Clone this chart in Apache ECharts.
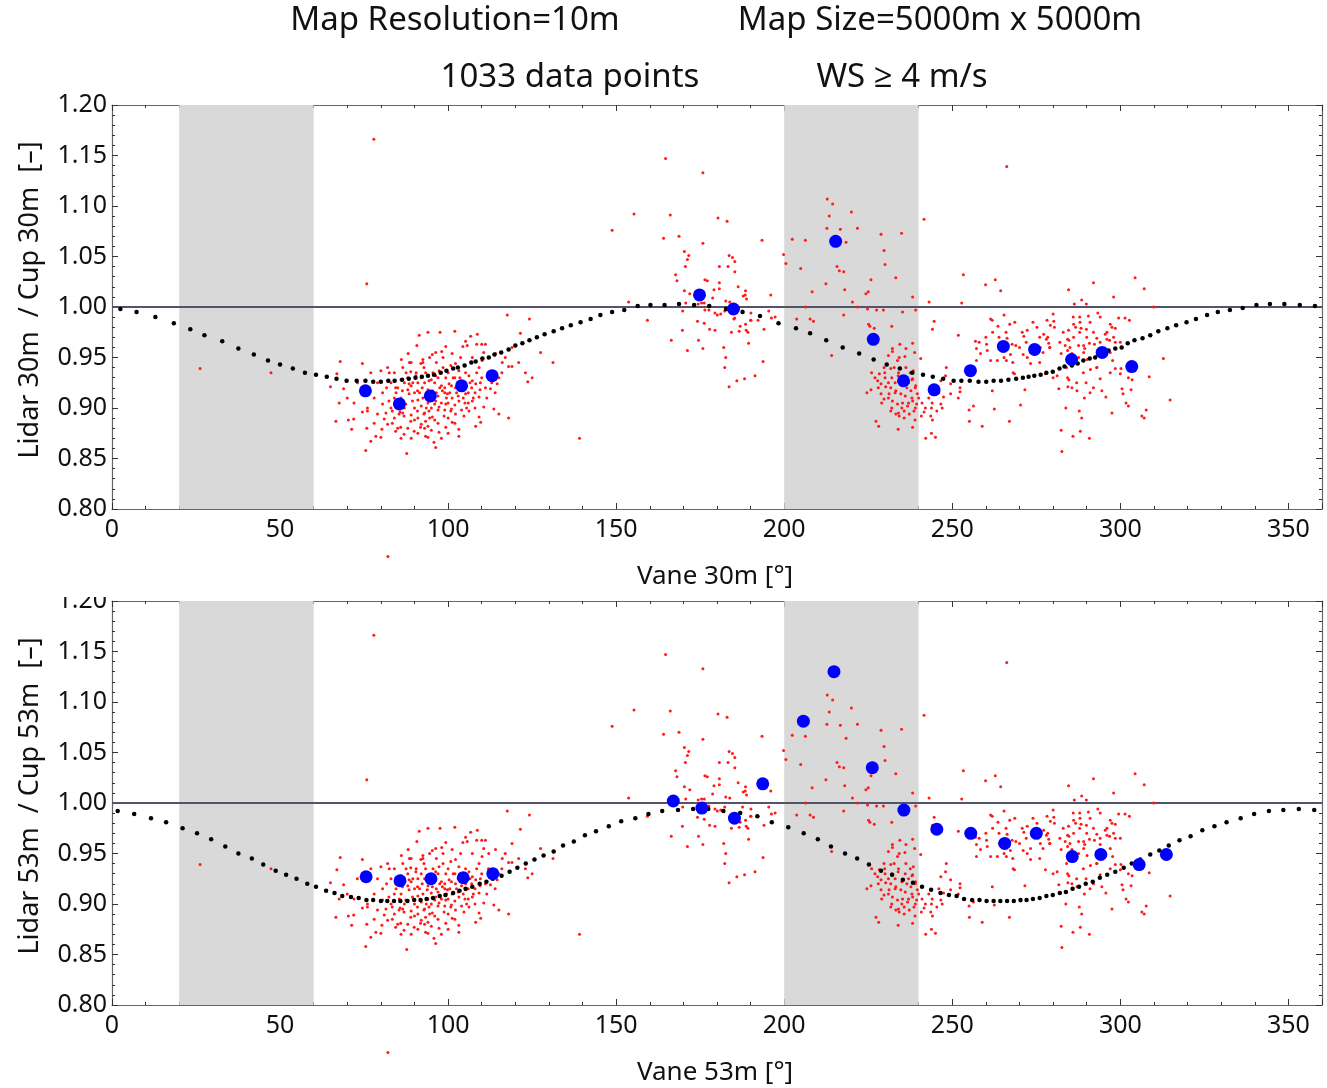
<!DOCTYPE html>
<html>
<head>
<meta charset="utf-8">
<title>Lidar / Cup ratio vs. vane direction</title>
<script src="https://cdn.jsdelivr.net/npm/echarts/dist/echarts.min.js"></script>
<style>
  html, body { margin: 0; padding: 0; background: #fff; }
  #chart { width: 1327px; height: 1088px; }
</style>
</head>
<body>
<div id="chart"></div>
<script>
// Individual 10-minute samples: [direction deg, lidar/cup ratio]
const samples = [
  [117.6,0.992],[124.2,0.988],[121.5,0.974],[127.5,0.955],[131.2,0.945],[123.7,0.926],[118.0,0.890],[139.1,0.870],
  [67.9,0.946],[74.5,0.944],[66.9,0.934],[65.0,0.921],[68.9,0.919],[67.6,0.905],[66.6,0.887],[70.3,0.888],
  [71.9,0.889],[71.3,0.879],[75.5,0.858],[77.0,0.867],[78.5,0.872],[80.0,0.871],[80.3,0.879],[75.8,0.880],
  [74.5,0.896],[76.0,0.897],[79.0,0.894],[81.0,0.889],[82.0,0.884],[83.4,0.885],[84.4,0.877],[85.9,0.881],
  [86.9,0.874],[87.7,0.855],[91.4,0.972],[94.0,0.975],[97.6,0.975],[102.0,0.976],[106.7,0.971],[108.7,0.973],
  [90.7,0.962],[88.1,0.954],[86.1,0.948],[92.5,0.948],[95.3,0.953],[96.3,0.955],[98.1,0.956],[99.3,0.961],
  [101.2,0.954],[104.4,0.961],[105.2,0.966],[105.7,0.962],[108.5,0.963],[110.0,0.963],[111.1,0.963],[110.6,0.955],
  [112.1,0.950],[114.1,0.954],[116.1,0.945],[119.0,0.941],[118.0,0.941],[80.0,0.937],[82.0,0.940],[82.5,0.935],
  [81.7,0.920],[84.4,0.920],[86.4,0.917],[88.4,0.924],[88.9,0.936],[90.4,0.932],[91.9,0.944],[92.8,0.940],
  [93.3,0.935],[94.3,0.927],[96.3,0.932],[97.3,0.937],[99.3,0.930],[100.8,0.942],[102.2,0.944],[103.2,0.937],
  [105.2,0.935],[106.2,0.932],[107.2,0.927],[108.2,0.924],[109.6,0.925],[111.1,0.920],[112.6,0.919],[114.6,0.924],
  [115.1,0.930],[109.2,0.940],[110.1,0.947],[107.2,0.950],[103.7,0.950],[100.3,0.924],[98.3,0.917],[96.3,0.907],
  [97.3,0.901],[99.3,0.904],[101.2,0.910],[103.2,0.907],[105.2,0.914],[107.2,0.907],[109.2,0.911],[110.6,0.901],
  [109.2,0.891],[108.2,0.882],[109.7,0.886],[106.2,0.897],[104.7,0.892],[102.2,0.894],[101.2,0.886],[99.3,0.881],
  [97.3,0.876],[95.8,0.866],[96.3,0.861],[93.3,0.872],[91.8,0.881],[89.9,0.877],[88.9,0.887],[86.9,0.892],
  [85.4,0.894],[83.4,0.897],[82.4,0.907],[80.5,0.904],[90.9,0.897],[92.8,0.894],[94.3,0.897],[95.3,0.891],
  [93.3,0.887],[89.4,0.907],[90.9,0.917],[92.3,0.920],[93.8,0.914],[95.3,0.917],[88.4,0.914],[87.4,0.904],
  [98.8,0.892],[100.8,0.897],[103.2,0.879],[105.2,0.920],[102.2,0.920],[99.8,0.914],[113.6,0.899],[115.1,0.894],
  [103.2,0.872],[94.0,0.871],[85.7,0.896],
  [88,0.930],[89,0.922],[90,0.915],[91,0.908],[92,0.902],[93,0.925],[94,0.918],[95,0.911],
  [96,0.904],[97,0.898],[98,0.922],[99,0.915],[100,0.905],[101,0.899],[102,0.930],[103,0.925],
  [104,0.918],[105,0.905],[106,0.915],[107,0.920],[87,0.925],[86,0.910],[85,0.920],[84,0.910],
  [83,0.925],[92,0.930],[96,0.925],[100,0.935],[94,0.905],[98,0.905],[90,0.900],[91,0.890],
  [93,0.895],[95,0.900],[97,0.912],[99,0.920],[101,0.922],[103,0.912],[105,0.925],[104,0.898],
  [102,0.903],[89,0.893],[87,0.900],[86,0.928],[88,0.918],[91,0.925],[95,0.928],[97,0.930],
  [99,0.898],[100,0.890],[102,0.885],[96,0.888],[94,0.882],[92,0.884],[90,0.888],[106,0.905],
  [108,0.915],[110,0.930],[112,0.935],[108,0.900],
  [84.5,0.915],[85.5,0.905],[86.5,0.895],[87.5,0.935],[88.5,0.945],[89.5,0.925],[90.5,0.935],[91.5,0.915],
  [92.5,0.910],[93.5,0.900],[94.5,0.890],[95.5,0.935],[96.5,0.915],[97.5,0.920],[98.5,0.940],[99.5,0.910],
  [100.5,0.915],[101.5,0.930],[102.5,0.915],[103.5,0.930],[104.5,0.910],[105.5,0.900],[106.5,0.925],[107.5,0.910],
  [108.5,0.935],[109.5,0.918],[111.5,0.910],[113,0.925],[114,0.915],[116,0.935],[117,0.950],[119,0.960],
  [121,0.945],[123,0.935],[125,0.930],[78,0.910],[79,0.925],[80.5,0.915],[81.5,0.895],[83,0.900],
  [84,0.890],[85,0.880],[86,0.870],[88,0.880],[89,0.870],[91,0.875],[93,0.880],[95,0.878],
  [97,0.885],[98,0.870],[100,0.875],[92.5,0.945],[94.5,0.950],[96.5,0.945],[98.5,0.950],[89,0.945],
  [86.5,0.940],[84,0.935],[77,0.935],[73,0.925],[72,0.905],[70,0.910],[76,0.900],[78,0.885],
  [164.7,1.147],[175.8,1.133],[155.3,1.092],[166.1,1.091],[148.8,1.076],[164.1,1.068],[168.7,1.070],[180.3,1.088],
  [183.0,1.085],[175.8,1.063],[170.3,1.055],[171.6,1.051],[171.2,1.047],[170.6,1.040],[167.7,1.032],[168.1,1.026],
  [183.6,1.051],[184.6,1.049],[185.3,1.045],[180.7,1.040],[183.3,1.040],[185.3,1.035],[193.4,1.066],[176.4,1.027],
  [177.1,1.026],[180.7,1.024],[180.7,1.018],[179.1,1.017],[186.3,1.020],[188.5,1.016],[187.8,1.011],[188.4,1.012],
  [188.8,1.008],[170.3,1.016],[171.9,1.013],[170.7,1.004],[174.4,1.003],[175.4,1.004],[176.2,1.004],[153.7,1.005],
  [178.7,1.009],[182.6,1.006],[183.8,1.005],[196.0,1.012],[169.8,0.996],[176.4,0.997],[177.6,0.997],[179.4,0.994],
  [180.1,0.992],[181.1,0.993],[182.3,0.996],[185.0,0.988],[185.3,0.989],[187.6,0.996],[190.1,0.994],[190.1,0.987],
  [190.0,0.987],[192.2,0.987],[195.4,0.996],[196.2,0.989],[197.3,0.990],[159.3,0.987],[174.2,0.986],[176.2,0.984],
  [186.9,0.981],[188.5,0.983],[169.7,0.977],[177.8,0.978],[179.4,0.977],[184.3,0.975],[186.6,0.976],[189.2,0.975],
  [188.7,0.977],[194.0,0.978],[166.4,0.967],[174.5,0.967],[189.4,0.964],[171.2,0.957],[175.8,0.959],[182.0,0.960],
  [182.6,0.950],[182.3,0.940],[193.7,0.946],[191.3,0.932],[188.2,0.929],[185.9,0.927],[183.6,0.921],
  [212.8,1.107],[214.4,1.102],[213.4,1.090],[220.0,1.094],[212.7,1.078],[216.7,1.077],[221.8,1.078],[202.4,1.067],
  [206.3,1.066],[218.4,1.064],[228.8,1.072],[234.9,1.073],[199.8,1.052],[200.5,1.043],[204.9,1.038],[215.7,1.040],
  [216.4,1.036],[217.7,1.035],[229.7,1.056],[230.0,1.042],[233.2,1.029],[225.8,1.027],[212.4,1.023],[208.3,1.015],
  [218.0,1.017],[224.3,1.013],[225.0,1.015],[238.2,1.010],[220.3,1.005],[206.3,1.000],[221.8,1.000],[224.8,0.998],
  [227.5,0.997],[229.5,0.997],[235.2,0.995],[239.1,0.997],[203.7,0.988],[207.7,0.988],[208.7,0.986],[217.7,0.992],
  [225.1,0.983],[225.5,0.981],[226.8,0.979],[232.0,0.981],[214.1,0.952],[232.2,0.959],[232.2,0.956],[234.4,0.963],
  [236.2,0.959],[238.2,0.964],[238.8,0.955],[235.9,0.951],[234.2,0.950],[233.7,0.947],[231.0,0.952],[229.7,0.940],
  [228.3,0.934],[229.9,0.935],[231.7,0.939],[232.7,0.940],[233.9,0.932],[236.2,0.940],[237.5,0.935],[238.4,0.937],
  [238.2,0.929],[227.8,0.927],[228.8,0.924],[230.2,0.921],[231.7,0.920],[233.2,0.917],[234.7,0.914],[236.5,0.920],
  [237.7,0.917],[239.1,0.922],[239.6,0.914],[224.6,0.915],[225.8,0.918],[228.8,0.914],[229.7,0.909],[231.2,0.914],
  [232.2,0.907],[233.7,0.904],[235.2,0.905],[236.7,0.902],[238.2,0.907],[239.4,0.904],[231.7,0.897],[233.2,0.894],
  [234.2,0.892],[235.7,0.890],[237.2,0.894],[238.6,0.897],[238.9,0.888],[235.7,0.897],[227.3,0.887],[228.1,0.882],
  [233.9,0.879],[238.2,0.881],
  [241.6,1.087],[243.1,1.005],[253.3,1.032],[259.9,1.022],[262.8,1.027],[264.4,1.016],[252.8,1.004],[244.6,0.986],
  [244.1,0.978],[251.8,0.972],[256.9,0.966],[257.2,0.959],[258.4,0.954],[260.2,0.963],[260.4,0.957],[261.4,0.988],
  [261.9,0.987],[263.6,0.981],[265.4,0.992],[267.1,0.983],[268.6,0.985],[263.9,0.970],[266.3,0.969],[267.8,0.963],
  [268.9,0.962],[270.8,0.975],[271.3,0.971],[272.3,0.977],[275.2,0.980],[276.0,0.970],[277.2,0.973],[278.0,0.968],
  [278.7,0.964],[278.2,0.987],[276.2,0.960],[273.3,0.955],[272.3,0.950],[271.1,0.953],[273.3,0.944],[267.3,0.953],
  [266.1,0.947],[265.4,0.950],[263.4,0.947],[261.4,0.947],[257.2,0.947],[248.2,0.940],[248.0,0.932],[246.6,0.927],
  [249.5,0.924],[252.3,0.920],[252.3,0.916],[251.8,0.910],[249.5,0.914],[247.4,0.911],[246.6,0.904],[245.4,0.897],
  [243.8,0.900],[241.6,0.896],[240.8,0.892],[243.6,0.892],[244.1,0.888],[242.1,0.870],[245.0,0.871],[243.8,0.875],
  [255.0,0.898],[256.3,0.902],[255.1,0.887],[258.9,0.882],[261.9,0.917],[262.5,0.899],[267.0,0.887],[270.3,0.903],
  [268.5,0.934],[268.1,0.935],[271.6,0.918],[277.7,0.934],[240.6,0.949],
  [304.4,1.029],[307.1,1.018],[292.0,1.024],[284.6,1.017],[298.0,1.010],[286.3,1.003],[288.5,1.007],[289.9,1.003],
  [309.9,1.000],[280.0,0.993],[280.2,0.986],[279.2,0.982],[280.4,0.980],[278.4,0.970],[279.0,0.960],[287.9,0.990],
  [290.5,0.991],[293.3,0.994],[294.0,0.990],[286.1,0.983],[286.7,0.980],[284.6,0.977],[288.3,0.979],[287.9,0.975],
  [289.9,0.978],[297.0,0.983],[297.5,0.980],[298.5,0.979],[299.5,0.989],[301.4,0.989],[302.7,0.987],[295.5,0.973],
  [296.0,0.968],[296.8,0.967],[298.5,0.965],[293.0,0.969],[292.3,0.963],[290.8,0.964],[289.1,0.962],[287.6,0.962],
  [286.1,0.970],[284.3,0.968],[284.7,0.967],[283.6,0.962],[282.4,0.954],[284.3,0.957],[285.6,0.954],[289.4,0.959],
  [289.1,0.955],[287.6,0.950],[290.1,0.948],[293.0,0.952],[294.0,0.959],[297.0,0.955],[297.7,0.947],[298.5,0.939],
  [300.2,0.939],[300.0,0.934],[302.4,0.930],[303.5,0.928],[308.6,0.931],[312.8,0.949],[314.8,0.908],[280.0,0.930],
  [281.2,0.932],[284.3,0.930],[284.7,0.928],[281.7,0.919],[284.4,0.921],[285.6,0.920],[287.1,0.917],[289.8,0.925],
  [289.3,0.910],[292.0,0.920],[294.0,0.929],[294.5,0.917],[295.7,0.911],[300.5,0.919],[300.8,0.914],[303.2,0.918],
  [302.4,0.902],[301.7,0.905],[297.5,0.895],[306.4,0.892],[307.1,0.890],[307.7,0.898],[283.8,0.900],[287.8,0.897],
  [288.5,0.890],[288.1,0.877],[285.9,0.872],[282.4,0.878],[290.8,0.870],[282.6,0.857],[293.0,0.940],[291.1,0.938],
  [230,0.930],[231,0.925],[232,0.930],[233,0.925],[234,0.935],[235,0.922],[236,0.930],[237,0.925],
  [238,0.910],[239,0.920],[228,0.920],[229,0.905],[231,0.910],[233,0.915],[235,0.900],[237,0.905],
  [239,0.900],[232,0.900],[234,0.895],[236,0.912],[238,0.928],[240,0.910],[241,0.905],[242,0.900],
  [243,0.910],[244,0.905],[246,0.915],[247,0.900],[227,0.930],[226,0.935],
  [262,0.975],[266,0.975],[270,0.960],[272,0.965],[274,0.985],[277,0.955],[279,0.960],[283,0.975],
  [286,0.990],[288,0.985],[290,0.970],[292,0.975],[294,0.965],[296,0.975],[298,0.970],[300,0.965],
  [291,0.985],[285,0.960],[282,0.965],[276,0.945],[264,0.960],[260,0.970],[258,0.965],[268,0.945],
  [293,0.940],[297,0.935],[289,0.935],[284,0.940],[287,0.925],[291,0.915],
  [26.2,0.939],[47.3,0.935],[77.9,1.166],[75.8,1.023],[82.1,0.753],[266.2,1.139]
];

// Bin-averaged ratio, 30 m vane
const binsTop = [
  [75.4,0.917],[85.5,0.904],[94.7,0.912],[104.0,0.922],[113.1,0.932],[174.8,1.012],[184.9,0.998],
  [215.3,1.065],[226.5,0.968],[235.5,0.927],[244.6,0.918],[255.4,0.937],[265.2,0.961],[274.5,0.958],
  [285.5,0.948],[294.6,0.955],[303.4,0.941]
];

// Bin-averaged ratio, 53 m vane
const binsBottom = [
  [75.6,0.927],[85.7,0.923],[94.9,0.925],[104.5,0.926],[113.3,0.930],[167.0,1.002],[175.5,0.995],
  [185.2,0.985],[193.6,1.019],[205.7,1.081],[214.8,1.130],[226.2,1.035],[235.6,0.993],[245.4,0.974],
  [255.5,0.970],[265.6,0.960],[275.0,0.970],[285.7,0.947],[294.2,0.949],[305.6,0.939],[313.7,0.949]
];

// Flow-model prediction, 30 m
const modelTop = [
  [2.5,0.998],[7.3,0.995],[12.9,0.990],[18.4,0.984],[23.3,0.978],[27.5,0.972],[32.8,0.966],[37.6,0.959],
  [42.2,0.953],[46.4,0.947],[50.0,0.943],[53.8,0.939],[57.4,0.935],[60.7,0.933],[63.9,0.931],[66.8,0.929],
  [69.8,0.927],[72.8,0.927],[75.4,0.927],[77.7,0.926],[80.0,0.926],[82.2,0.927],[84.1,0.927],[86.3,0.928],
  [88.3,0.929],[90.3,0.930],[92.2,0.931],[94.0,0.932],[95.8,0.933],[97.8,0.935],[99.5,0.937],[101.5,0.939],
  [102.9,0.940],[104.9,0.942],[106.9,0.945],[108.2,0.946],[110.2,0.949],[112.1,0.950],[113.8,0.953],[115.8,0.955],
  [118.0,0.958],[120.0,0.962],[122.1,0.964],[124.2,0.967],[126.4,0.970],[128.7,0.973],[131.4,0.976],[133.9,0.979],
  [136.5,0.982],[139.4,0.985],[142.4,0.988],[145.3,0.992],[148.8,0.995],[152.4,0.997],[156.4,1.001],[160.2,1.002],
  [164.4,1.002],[168.7,1.003],[173.2,1.002],[177.7,1.001],[182.7,0.998],[187.6,0.995],[192.8,0.991],[198.3,0.984],
  [203.5,0.979],[207.7,0.974],[212.5,0.967],[217.4,0.960],[222.3,0.954],[226.6,0.948],[230.5,0.943],[234.4,0.939],
  [238.1,0.935],[241.3,0.933],[244.2,0.931],[247.3,0.929],[250.4,0.927],[252.7,0.927],[255.2,0.927],[257.8,0.926],
  [260.1,0.926],[262.3,0.927],[264.5,0.927],[266.7,0.928],[269.0,0.929],[271.0,0.930],[272.7,0.931],[274.4,0.932],
  [276.3,0.933],[278.0,0.935],[279.9,0.936],[281.9,0.939],[283.4,0.941],[285.6,0.942],[287.3,0.944],[289.0,0.947],
  [290.9,0.949],[292.5,0.950],[294.5,0.954],[296.5,0.957],[298.5,0.959],[300.4,0.960],[302.2,0.964],[304.2,0.967],
  [306.6,0.969],[308.9,0.972],[311.3,0.976],[314.0,0.979],[316.6,0.982],[319.7,0.985],[322.5,0.988],[325.8,0.992],
  [329.0,0.995],[332.6,0.997],[336.4,0.999],[340.5,1.002],[344.5,1.003],[348.8,1.003],[353.4,1.002],[357.9,1.001]
];

// Flow-model prediction, 53 m
const modelBottom = [
  [1.7,0.992],[6.6,0.989],[11.6,0.985],[16.1,0.981],[21.0,0.975],[25.3,0.970],[29.5,0.964],[33.7,0.957],
  [37.6,0.950],[41.6,0.945],[45.0,0.939],[48.7,0.933],[51.8,0.929],[54.9,0.925],[58.1,0.920],[60.7,0.917],
  [63.7,0.913],[66.2,0.911],[68.5,0.908],[71.1,0.907],[73.4,0.906],[75.7,0.904],[77.7,0.904],[80.0,0.903],
  [81.9,0.903],[83.9,0.903],[85.8,0.903],[87.9,0.903],[89.9,0.904],[91.8,0.904],[93.6,0.905],[95.5,0.906],
  [97.5,0.908],[99.2,0.909],[101.5,0.911],[103.4,0.913],[105.2,0.915],[107.2,0.917],[109.4,0.920],[111.4,0.922],
  [113.3,0.925],[115.9,0.928],[118.3,0.932],[120.6,0.936],[123.1,0.940],[125.7,0.944],[128.4,0.948],[131.4,0.952],
  [134.2,0.958],[137.4,0.962],[140.7,0.968],[144.0,0.972],[147.8,0.977],[151.5,0.982],[155.7,0.985],[159.6,0.989],
  [163.7,0.992],[168.4,0.993],[172.9,0.994],[177.4,0.994],[181.9,0.992],[186.9,0.990],[192.0,0.987],[196.3,0.981],
  [201.2,0.976],[205.8,0.970],[210.0,0.964],[213.9,0.957],[218.1,0.950],[221.7,0.945],[225.2,0.939],[228.8,0.933],
  [232.1,0.929],[235.3,0.924],[238.3,0.921],[241.0,0.917],[243.7,0.914],[246.5,0.911],[249.0,0.909],[251.3,0.908],
  [253.5,0.905],[255.9,0.904],[258.1,0.904],[260.2,0.903],[262.3,0.903],[264.3,0.903],[266.3,0.903],[268.3,0.903],
  [270.3,0.904],[272.1,0.904],[274.0,0.905],[276.0,0.906],[278.0,0.908],[279.9,0.909],[282.0,0.911],[283.8,0.912],
  [285.8,0.915],[287.7,0.917],[289.7,0.920],[291.8,0.922],[293.9,0.926],[296.1,0.929],[298.5,0.932],[301.0,0.936],
  [303.4,0.940],[305.9,0.944],[308.9,0.949],[311.6,0.953],[314.4,0.958],[317.6,0.963],[320.9,0.967],[324.4,0.973],
  [328.0,0.977],[331.6,0.981],[335.8,0.985],[339.8,0.989],[344.2,0.992],[348.5,0.993],[353.1,0.994],[357.7,0.993]
];

// Excluded direction sectors (deg)
const excludedSectors = [[20, 60], [200, 240]];

const xTicks = { min: 0, max: 360, interval: 50 };
const yTicks = { min: 0.8, max: 1.2, interval: 0.05 };

const FONT = '"Noto Sans", "Open Sans", "DejaVu Sans", sans-serif';
const FRAME = '#666';

const chart = echarts.init(document.getElementById('chart'));

const grids = [
  { left: 112, top: 105, width: 1210, height: 404 },
  { left: 112, top: 601, width: 1210, height: 404 }
];

function xAxes(gridIndex) {
  const common = {
    type: 'value', gridIndex, min: xTicks.min, max: xTicks.max, interval: xTicks.interval,
    axisLine: { show: true, onZero: false, lineStyle: { color: FRAME, width: 1.2 } },
    axisTick: { show: true, inside: true, length: 6, lineStyle: { color: '#333' } },
    minorTick: { show: true, splitNumber: 5, length: 3, lineStyle: { color: '#333' } },
    splitLine: { show: false }, minorSplitLine: { show: false }
  };
  return [
    Object.assign({}, common, {
      position: 'bottom',
      axisLabel: { show: true, fontFamily: FONT, fontSize: 25, color: '#111', margin: 8, showMaxLabel: false }
    }),
    Object.assign({}, common, { position: 'top', axisLabel: { show: false } })
  ];
}

function yAxes(gridIndex) {
  const common = {
    type: 'value', gridIndex, min: yTicks.min, max: yTicks.max, interval: yTicks.interval,
    axisLine: { show: true, onZero: false, lineStyle: { color: FRAME, width: 1.2 } },
    axisTick: { show: true, inside: true, length: 6, lineStyle: { color: '#333' } },
    minorTick: { show: true, splitNumber: 5, length: 3, lineStyle: { color: '#333' } },
    splitLine: { show: false }, minorSplitLine: { show: false }
  };
  return [
    Object.assign({}, common, {
      position: 'left',
      axisLabel: { show: true, fontFamily: FONT, fontSize: 25, color: '#111', margin: 5,
        formatter: v => v.toFixed(2) }
    }),
    Object.assign({}, common, { position: 'right', axisLabel: { show: false } })
  ];
}

function panelSeries(i, bins, model) {
  const ax = { xAxisIndex: 2 * i, yAxisIndex: 2 * i };
  return [
    Object.assign({
      type: 'scatter', name: 'samples', data: samples, symbol: 'circle', symbolSize: 3,
      itemStyle: { color: '#ff1a1a', opacity: 1 }, clip: false, z: 3, silent: true,
      markArea: {
        silent: true, z: 1,
        itemStyle: { color: '#d9d9d9', opacity: 1 },
        data: excludedSectors.map(s => [{ xAxis: s[0] }, { xAxis: s[1] }])
      },
      markLine: {
        silent: true, symbol: 'none', z: 2, label: { show: false },
        lineStyle: { color: '#53536a', width: 2, type: 'solid', opacity: 1 },
        data: [{ yAxis: 1.0 }]
      }
    }, ax),
    Object.assign({
      type: 'scatter', name: 'model', data: model, symbol: 'circle', symbolSize: 4.5,
      itemStyle: { color: '#000', opacity: 1 }, z: 4, silent: true
    }, ax),
    Object.assign({
      type: 'scatter', name: 'bins', data: bins, symbol: 'circle', symbolSize: 13,
      itemStyle: { color: '#0000ff', opacity: 1 }, z: 5, silent: true
    }, ax)
  ];
}

function text(t, x, y, opts) {
  return {
    type: 'text', x, y, z: 50,
    style: Object.assign({
      text: t, fill: '#111', fontFamily: FONT, fontSize: 26,
      align: 'center', verticalAlign: 'middle', textAlign: 'center', textVerticalAlign: 'middle'
    }, opts || {})
  };
}

const option = {
  animation: false,
  backgroundColor: '#fff',
  grid: grids,
  xAxis: xAxes(0).concat(xAxes(1)),
  yAxis: yAxes(0).concat(yAxes(1)),
  series: panelSeries(0, binsTop, modelTop).concat(panelSeries(1, binsBottom, modelBottom)),
  graphic: [
    { type: 'rect', z: 40, shape: { x: 40, y: 583, width: 70, height: 14 }, style: { fill: '#fff' } },
    text('Map Resolution=10m', 455, 21, { fontSize: 33 }),
    text('Map Size=5000m x 5000m', 940, 21, { fontSize: 33 }),
    text('1033 data points', 570, 78, { fontSize: 33 }),
    text('WS \u2265 4 m/s', 902, 78, { fontSize: 33 }),
    text('Vane 30m [\u00b0]', 715, 577),
    text('Vane 53m [\u00b0]', 715, 1073),
    Object.assign(text('Lidar 30m  / Cup 30m  [\u2013]', 30, 300, { fontSize: 27 }), { rotation: Math.PI / 2 }),
    Object.assign(text('Lidar 53m  / Cup 53m  [\u2013]', 30, 796, { fontSize: 27 }), { rotation: Math.PI / 2 })
  ]
};

chart.setOption(option);
</script>
</body>
</html>
